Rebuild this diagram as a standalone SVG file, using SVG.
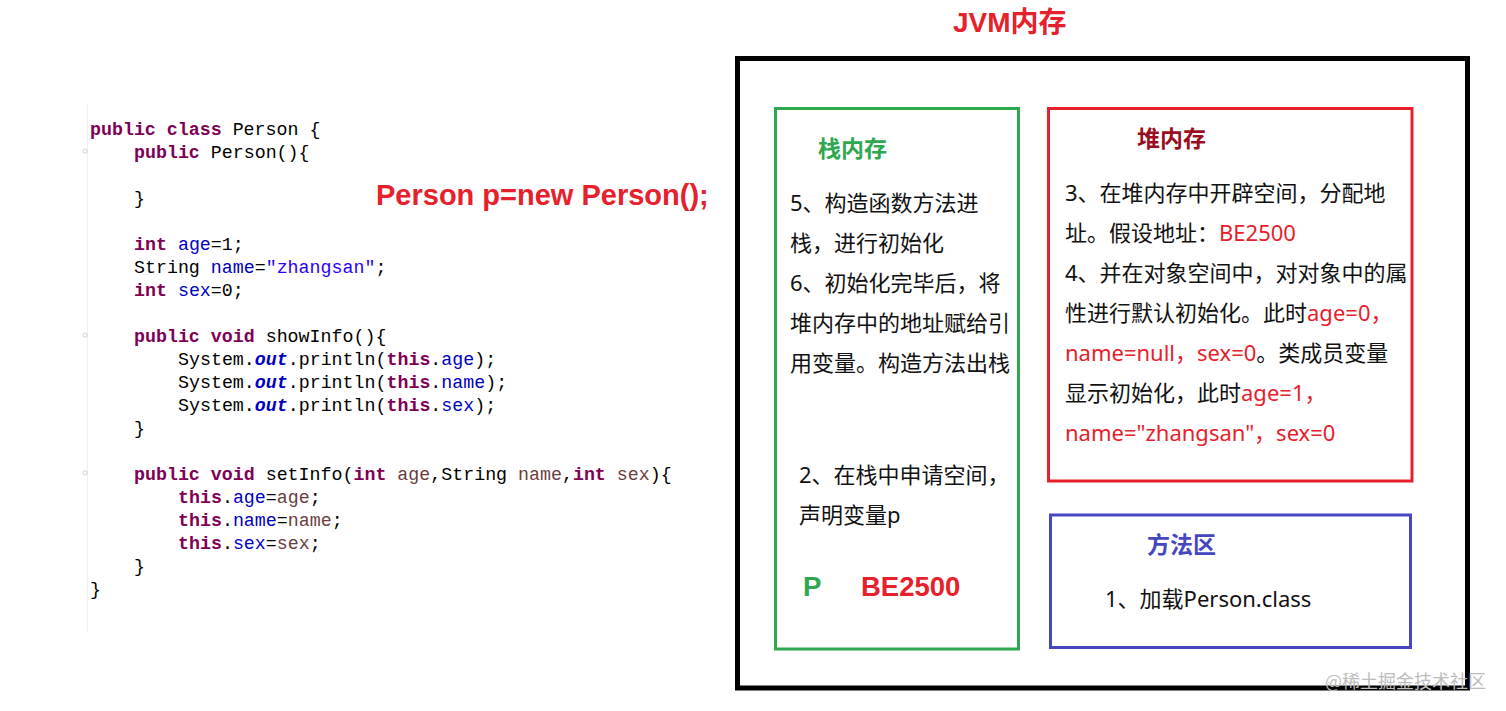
<svg xmlns="http://www.w3.org/2000/svg" width="1506" height="711" viewBox="0 0 1506 711">
<style>
.code{font-family:"Liberation Mono","DejaVu Sans Mono",monospace;font-size:18.3px;fill:#000;white-space:pre}
.k{fill:#7f0055;font-weight:bold}
.f{fill:#0000c0}
.s{fill:#2a00ff}
.p{fill:#6a3e3e}
.o{fill:#0000c0;font-style:italic;font-weight:bold}
.cn{font-family:"Noto Sans","Noto Sans CJK SC",sans-serif;font-size:22px;fill:#111}
.red{fill:#e6212b}
.hd{font-family:"Noto Sans CJK SC",sans-serif;font-size:23px;font-weight:bold}
.bigb{font-family:"Liberation Sans","Noto Sans CJK SC",sans-serif;font-weight:bold}
</style>
<rect width="1506" height="711" fill="#fff"/>
<g id="code-editor">
  <line x1="87.5" y1="103" x2="87.5" y2="632" stroke="#f0f0f0" stroke-width="1"/>
  <g fill="none" stroke="#c8c8c8" stroke-width="0.8">
    <circle cx="85" cy="151" r="2.2"/>
    <circle cx="85" cy="335" r="2.2"/>
    <circle cx="85" cy="473" r="2.2"/>
  </g>
  <text class="code" x="90" y="135"><tspan class="k">public</tspan> <tspan class="k">class</tspan> Person {</text>
  <text class="code" x="134" y="158"><tspan class="k">public</tspan> Person(){</text>
  <text class="code" x="134" y="204">}</text>
  <text class="code" x="134" y="250"><tspan class="k">int</tspan> <tspan class="f">age</tspan>=1;</text>
  <text class="code" x="134" y="273">String <tspan class="f">name</tspan>=<tspan class="s">"zhangsan"</tspan>;</text>
  <text class="code" x="134" y="296"><tspan class="k">int</tspan> <tspan class="f">sex</tspan>=0;</text>
  <text class="code" x="134" y="342"><tspan class="k">public</tspan> <tspan class="k">void</tspan> showInfo(){</text>
  <text class="code" x="178" y="365">System.<tspan class="o">out</tspan>.println(<tspan class="k">this</tspan>.<tspan class="f">age</tspan>);</text>
  <text class="code" x="178" y="388">System.<tspan class="o">out</tspan>.println(<tspan class="k">this</tspan>.<tspan class="f">name</tspan>);</text>
  <text class="code" x="178" y="411">System.<tspan class="o">out</tspan>.println(<tspan class="k">this</tspan>.<tspan class="f">sex</tspan>);</text>
  <text class="code" x="134" y="434">}</text>
  <text class="code" x="134" y="480"><tspan class="k">public</tspan> <tspan class="k">void</tspan> setInfo(<tspan class="k">int</tspan> <tspan class="p">age</tspan>,String <tspan class="p">name</tspan>,<tspan class="k">int</tspan> <tspan class="p">sex</tspan>){</text>
  <text class="code" x="178" y="503"><tspan class="k">this</tspan>.<tspan class="f">age</tspan>=<tspan class="p">age</tspan>;</text>
  <text class="code" x="178" y="526"><tspan class="k">this</tspan>.<tspan class="f">name</tspan>=<tspan class="p">name</tspan>;</text>
  <text class="code" x="178" y="549"><tspan class="k">this</tspan>.<tspan class="f">sex</tspan>=<tspan class="p">sex</tspan>;</text>
  <text class="code" x="134" y="572">}</text>
  <text class="code" x="90" y="595">}</text>
</g>
<g id="statement">
  <text class="bigb" x="376" y="205" font-size="29" fill="#e6212b">Person p=new Person();</text>
</g>
<g id="jvm-title">
  <text class="bigb" x="953" y="32" font-size="28" fill="#e6212b">JVM内存</text>
</g>
<g id="jvm-memory">
  <rect x="737.5" y="58.5" width="730" height="629.5" fill="none" stroke="#000" stroke-width="5"/>
</g>
<g id="stack">
  <rect x="775.5" y="108.5" width="243" height="540.5" fill="none" stroke="#2ea84e" stroke-width="3"/>
  <text class="hd" x="818" y="157" fill="#2ea84e">栈内存</text>
  <text class="cn" x="790" y="211">5、构造函数方法进</text>
  <text class="cn" x="790" y="251">栈，进行初始化</text>
  <text class="cn" x="790" y="291">6、初始化完毕后，将</text>
  <text class="cn" x="790" y="331">堆内存中的地址赋给引</text>
  <text class="cn" x="790" y="371">用变量。构造方法出栈</text>
  <text class="cn" x="799" y="483">2、在栈中申请空间，</text>
  <text class="cn" x="799" y="523">声明变量p</text>
  <text class="bigb" x="803" y="596" font-size="27.5" fill="#2ea84e">P</text>
  <text class="bigb" x="861" y="596" font-size="27.5" fill="#e6212b">BE2500</text>
</g>
<g id="heap">
  <rect x="1048.5" y="108.5" width="363.5" height="372.5" fill="none" stroke="#e6212b" stroke-width="3"/>
  <text class="hd" x="1137" y="147" fill="#9b0d1e">堆内存</text>
  <text class="cn" x="1065" y="201">3、在堆内存中开辟空间，分配地</text>
  <text class="cn" x="1065" y="241">址。假设地址：<tspan class="red">BE2500</tspan></text>
  <text class="cn" x="1065" y="281">4、并在对象空间中，对对象中的属</text>
  <text class="cn" x="1065" y="321">性进行默认初始化。此时<tspan class="red">age=0，</tspan></text>
  <text class="cn" x="1065" y="361"><tspan class="red">name=null，sex=0</tspan>。类成员变量</text>
  <text class="cn" x="1065" y="401">显示初始化，此时<tspan class="red">age=1，</tspan></text>
  <text class="cn" x="1065" y="441"><tspan class="red">name="zhangsan"，sex=0</tspan></text>
</g>
<g id="method-area">
  <rect x="1050.5" y="515" width="360" height="132.5" fill="none" stroke="#4646c0" stroke-width="3"/>
  <text class="hd" x="1147" y="553" fill="#4646c0">方法区</text>
  <text class="cn" x="1105" y="607">1、加载Person.class</text>
</g>
<g id="connectors"/>
<g id="watermark">
  <text x="1325" y="688" font-family="Noto Sans CJK SC,sans-serif" font-size="18" fill="#bdbdbd">@稀土掘金技术社区</text>
</g>
</svg>
